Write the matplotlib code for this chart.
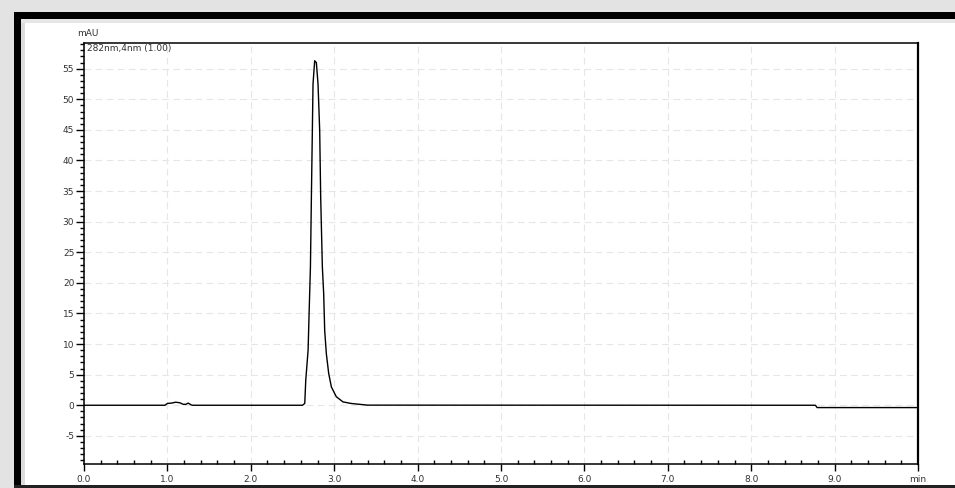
import matplotlib
matplotlib.use("Agg")
import matplotlib.pyplot as plt
from matplotlib.patches import Rectangle
from matplotlib.ticker import MultipleLocator

# Chromatogram data (time in min, absorbance in mAU)
time_min = [0.00, 0.97, 1.00, 1.05, 1.10, 1.15, 1.19, 1.22, 1.25, 1.28, 1.30,
            2.62, 2.647, 2.659, 2.687, 2.699, 2.715, 2.727, 2.738, 2.746, 2.766,
            2.786, 2.806, 2.826, 2.838, 2.858, 2.874, 2.886, 2.906, 2.934, 2.966,
            3.025, 3.105, 3.200, 3.305, 3.40, 8.77, 8.79, 10.00]
absorb_mau = [0.0, 0.0, 0.3, 0.35, 0.5, 0.4, 0.15, 0.15, 0.35, 0.1, 0.0,
              0.0, 0.3, 4.1, 9.0, 15.0, 22.6, 34.5, 44.9, 52.5, 56.3,
              56.0, 52.5, 44.9, 34.0, 22.6, 18.2, 12.2, 8.4, 5.2, 3.0,
              1.4, 0.55, 0.3, 0.15, 0.02, 0.0, -0.38, -0.38]

x_ticks = [0, 1, 2, 3, 4, 5, 6, 7, 8, 9, 10]
x_tick_labels = ["0.0", "1.0", "2.0", "3.0", "4.0", "5.0", "6.0", "7.0", "8.0", "9.0", "min"]
y_ticks = [-5, 0, 5, 10, 15, 20, 25, 30, 35, 40, 45, 50, 55]
y_tick_labels = ["-5", "0", "5", "10", "15", "20", "25", "30", "35", "40", "45", "50", "55"]
y_unit = "mAU"
trace_label = "282nm,4nm (1.00)"

W, H = 955, 488
fig = plt.figure(figsize=(W / 100, H / 100), dpi=100)
fig.patch.set_facecolor("#e3e3e3")

def fx(px):
    return px / W

def fy(py):
    return 1 - py / H

# white panel with black frame
fig.patches.append(Rectangle((fx(14), 0), 1 - fx(14), fy(12), transform=fig.transFigure,
                             facecolor="white", edgecolor="none", zorder=0))
# soft shadow inside frame
fig.patches.append(Rectangle((fx(20), 0), fx(5), fy(18), transform=fig.transFigure,
                             facecolor="#dcdcdc", edgecolor="none", zorder=0.5))
fig.patches.append(Rectangle((fx(20), fy(23)), 1 - fx(20), 5 / H, transform=fig.transFigure,
                             facecolor="#e6e6e6", edgecolor="none", zorder=0.5))
fig.patches.append(Rectangle((fx(14), 0), fx(6.5), fy(12), transform=fig.transFigure,
                             facecolor="black", edgecolor="none", zorder=1))
fig.patches.append(Rectangle((fx(14), fy(18.5)), 1 - fx(14), 6.5 / H, transform=fig.transFigure,
                             facecolor="black", edgecolor="none", zorder=1))
fig.patches.append(Rectangle((fx(14), 0), 1 - fx(14), 3 / H, transform=fig.transFigure,
                             facecolor="#222222", edgecolor="none", zorder=1))

ax = fig.add_axes([fx(84), fy(464), fx(918) - fx(84), fy(43) - fy(464)])
ax.set_facecolor("white")
ax.set_zorder(2)

ax.plot(time_min, absorb_mau, color="black", lw=1.0, zorder=3)

ax.set_xlim(0, 10)
ax.set_ylim(-9.6, 59.2)

ax.set_xticks(x_ticks)
ax.set_xticklabels(x_tick_labels)
ax.set_yticks(y_ticks)
ax.set_yticklabels(y_tick_labels)
ax.xaxis.set_minor_locator(MultipleLocator(0.2))
ax.yaxis.set_minor_locator(MultipleLocator(1))

ax.tick_params(axis="x", which="major", direction="out", length=5, width=1.0,
               labelsize=6.5, labelcolor="#333333", pad=3)
ax.tick_params(axis="x", which="minor", direction="in", length=3, width=1.0)
ax.tick_params(axis="y", which="major", direction="out", length=6, width=1.0,
               labelsize=6.5, labelcolor="#333333", pad=1)
ax.tick_params(axis="y", which="minor", direction="out", length=3, width=1.0)

for s in ax.spines.values():
    s.set_linewidth(1.1)
    s.set_color("black")
ax.spines["right"].set_linewidth(1.6)

ax.grid(True, which="major", color="#e6e6e6", linestyle=(0, (6, 4)), lw=0.8, zorder=1)

ax.text(0.003, 0.998, trace_label, transform=ax.transAxes, ha="left", va="top",
        fontsize=6.5, color="#333333")
fig.text(fx(77), fy(33), y_unit, ha="left", va="center", fontsize=6.5, color="#333333")

fig.savefig("out.png", dpi=100, facecolor=fig.get_facecolor())
